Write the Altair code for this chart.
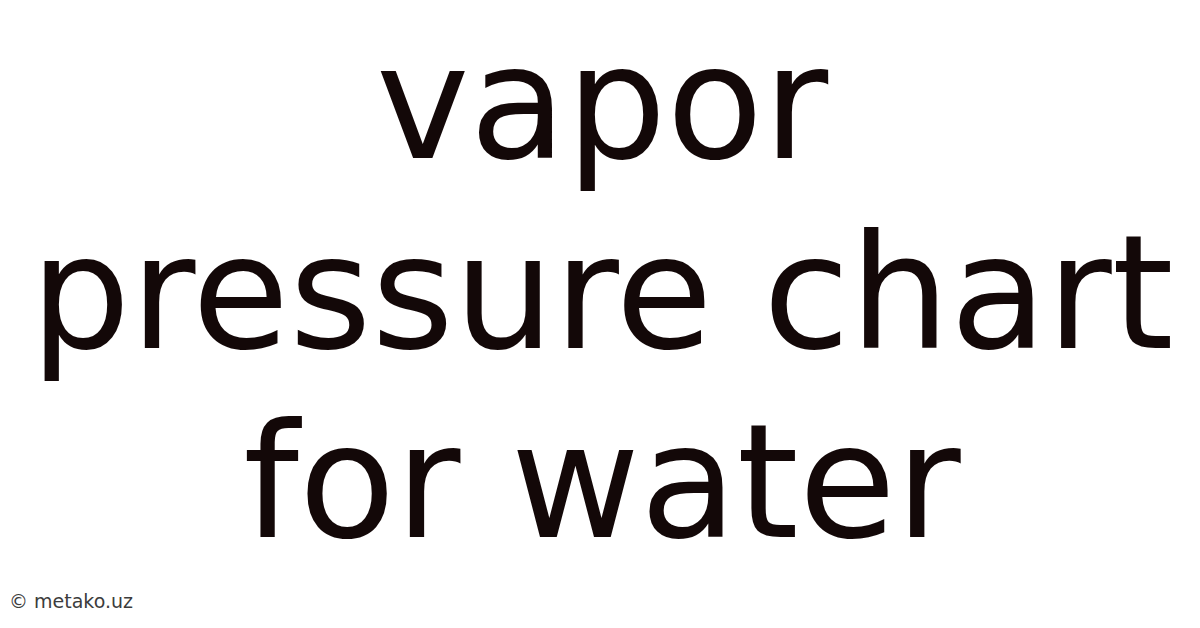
import altair as alt
import pandas as pd

# Content
lines = ["vapor", "pressure chart", "for water"]
line_index = [0, 1, 2]
watermark = ["© metako.uz"]

title_df = pd.DataFrame({"text": lines, "row": line_index})
mark_df = pd.DataFrame({"text": watermark, "row": [0]})

W, H = 1184, 612

title = alt.Chart(title_df).mark_text(
    font="DejaVu Sans",
    fontSize=158,
    color="#130808",
    align="center",
    baseline="alphabetic",
).encode(
    x=alt.value(W / 2 + 2),
    y=alt.Y("row:Q", scale=alt.Scale(domain=[0, 2], range=[150, 529]), axis=None),
    text="text:N",
)

wm = alt.Chart(mark_df).mark_text(
    font="DejaVu Sans",
    fontSize=19,
    color="#3c3c3c",
    align="left",
    baseline="alphabetic",
).encode(
    x=alt.value(1),
    y=alt.value(600),
    text="text:N",
)

chart = alt.layer(title, wm).properties(
    width=W,
    height=H,
    padding=0,
    autosize=alt.AutoSizeParams(type="none"),
    background="white",
).configure_view(stroke=None)

chart.save("out.html", embed_options={"renderer": "svg", "actions": False})
